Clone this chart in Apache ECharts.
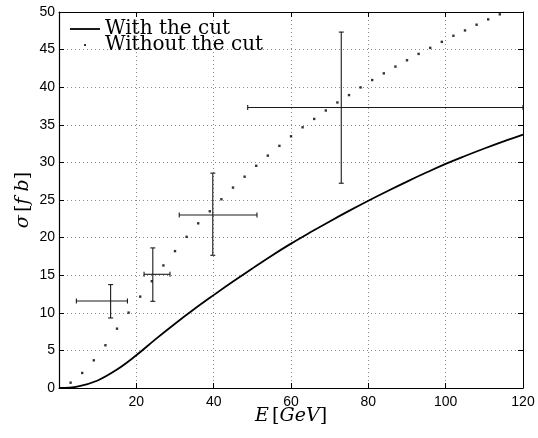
<!DOCTYPE html>
<html>
<head>
<meta charset="utf-8">
<script src="https://cdn.jsdelivr.net/npm/echarts@6/dist/echarts.min.js"></script>
<style>html,body{margin:0;padding:0;background:#fff}#c{width:538px;height:438px}</style>
</head>
<body>
<div id="c"></div>
<script>
// "With the cut" curve
const cutX = [0, 5, 10, 15, 20, 25, 30, 35, 40, 45, 50, 55, 60, 65, 70, 75, 80, 85, 90, 95, 100, 105, 110, 115, 120];
const cutY = [0, 0.22, 1.0, 2.45, 4.35, 6.5, 8.55, 10.5, 12.35, 14.15, 15.9, 17.6, 19.2, 20.7, 22.15, 23.55, 24.9, 26.2, 27.45, 28.65, 29.8, 30.85, 31.85, 32.8, 33.7];
// "Without the cut" dots
const noCutX = [3, 6, 9, 12, 15, 18, 21, 24, 27, 30, 33, 36, 39, 42, 45, 48, 51, 54, 57, 60, 63, 66, 69, 72, 75, 78, 81, 84, 87, 90, 93, 96, 99, 102, 105, 108, 111, 114];
const noCutY = [0.71, 2.0, 3.68, 5.68, 7.89, 10.02, 12.15, 14.2, 16.3, 18.2, 20.1, 21.9, 23.5, 25.1, 26.65, 28.1, 29.55, 30.9, 32.2, 33.47, 34.67, 35.78, 36.9, 37.97, 38.95, 39.97, 40.95, 41.84, 42.74, 43.58, 44.43, 45.23, 46.03, 46.84, 47.55, 48.31, 49.02, 49.69];
// Measurements with error bars
const errX = [13.35, 24.26, 39.77, 73.0];
const errY = [11.57, 15.12, 23.0, 37.3];
const errXLow = [4.49, 22.0, 31.1, 48.8];
const errXHigh = [17.7, 28.7, 51.2, 120];
const errYLow = [9.31, 11.53, 17.65, 27.23];
const errYHigh = [13.75, 18.63, 28.57, 47.33];
// Axis ticks
const xTicks = {min: 0, max: 120, interval: 20};
const yTicks = {min: 0, max: 50, interval: 5};

const chart = echarts.init(document.getElementById('c'), null, {renderer: 'canvas'});
const cutData = cutX.map((x, i) => [x, cutY[i]]);
const noCutData = noCutX.map((x, i) => [x, noCutY[i]]);
const errData = errX.map((x, i) => [x, errY[i], errXLow[i], errXHigh[i], errYLow[i], errYHigh[i]]);

const tickFont = {fontFamily: 'Liberation Sans, Arial, sans-serif', fontSize: 14, color: '#000'};
const gridLine = {show: true, lineStyle: {color: '#8a8a8a', width: 1, type: [1, 3]}};
const cap = 2.5;
const serifRich = {
  i: {fontFamily: 'DejaVu Serif', fontStyle: 'italic', fontSize: 19, color: '#000'},
  n: {fontFamily: 'DejaVu Serif', fontSize: 19, color: '#000'}
};

const option = {
  animation: false,
  backgroundColor: '#fff',
  grid: {left: 59, right: 15, top: 12, bottom: 50, containLabel: false},
  legend: {
    left: 70, top: 19, orient: 'vertical', padding: 0,
    itemWidth: 30, itemHeight: 16, itemGap: -4,
    textStyle: {fontFamily: 'DejaVu Serif', fontSize: 20, color: '#000'},
    data: [
      {name: 'With the cut', icon: 'path://M0,0L0,0M30,16L30,16M0,7.1L30,7.1L30,8.9L0,8.9Z'},
      {name: 'Without the cut', icon: 'path://M0,0L0,0M30,16L30,16M14,7L16,7L16,9L14,9Z'}
    ]
  },
  xAxis: [{
    type: 'value', min: xTicks.min, max: xTicks.max, interval: xTicks.interval,
    name: '{i|E} {n|[}{i|GeV}{n|]}', nameLocation: 'middle', nameGap: 19, nameMoveOverlap: false,
    nameTextStyle: {rich: serifRich},
    axisLine: {show: true, onZero: false, lineStyle: {color: '#000', width: 1.2}},
    axisTick: {show: true, inside: true, length: 5, lineStyle: {color: '#000'}},
    axisLabel: Object.assign({margin: 7, formatter: v => v === 0 ? '' : String(v)}, tickFont),
    splitLine: gridLine
  }, {
    type: 'value', position: 'top', min: xTicks.min, max: xTicks.max, interval: xTicks.interval,
    axisLine: {show: true, onZero: false, lineStyle: {color: '#000', width: 1}},
    axisTick: {show: true, inside: true, length: 5, lineStyle: {color: '#000'}},
    axisLabel: {show: false}, splitLine: {show: false}
  }],
  yAxis: [{
    type: 'value', min: yTicks.min, max: yTicks.max, interval: yTicks.interval,
    name: '{i|σ} {n|[}{i|f b}{n|]}', nameLocation: 'middle', nameGap: 26, nameMoveOverlap: false,
    nameTextStyle: {rich: serifRich},
    axisLine: {show: true, onZero: false, lineStyle: {color: '#000', width: 1.2}},
    axisTick: {show: true, inside: true, length: 5, lineStyle: {color: '#000'}},
    axisLabel: Object.assign({margin: 4}, tickFont),
    splitLine: gridLine
  }, {
    type: 'value', position: 'right', min: yTicks.min, max: yTicks.max, interval: yTicks.interval,
    axisLine: {show: true, onZero: false, lineStyle: {color: '#000', width: 1}},
    axisTick: {show: true, inside: true, length: 5, lineStyle: {color: '#000'}},
    axisLabel: {show: false}, splitLine: {show: false}
  }],
  series: [{
    name: 'With the cut', type: 'line', data: cutData, smooth: 0.4, symbol: 'none',
    lineStyle: {color: '#000', width: 1.8}, itemStyle: {color: '#000'}, z: 3
  }, {
    name: 'Without the cut', type: 'scatter', data: noCutData, symbol: 'rect', symbolSize: 2.4,
    itemStyle: {color: '#000'}, z: 4
  }, {
    name: 'errors', type: 'custom', data: errData, z: 5,
    renderItem: function (params, api) {
      const c = api.coord([api.value(0), api.value(1)]);
      const xl = api.coord([api.value(2), api.value(1)]);
      const xh = api.coord([api.value(3), api.value(1)]);
      const yl = api.coord([api.value(0), api.value(4)]);
      const yh = api.coord([api.value(0), api.value(5)]);
      const st = {stroke: '#1a1a1a', lineWidth: 1.1};
      const L = (x1, y1, x2, y2) => ({type: 'line', shape: {x1, y1, x2, y2}, style: st});
      return {type: 'group', children: [
        L(xl[0], c[1], xh[0], c[1]),
        L(xl[0], c[1] - cap, xl[0], c[1] + cap),
        L(xh[0], c[1] - cap, xh[0], c[1] + cap),
        L(c[0], yl[1], c[0], yh[1]),
        L(c[0] - cap, yl[1], c[0] + cap, yl[1]),
        L(c[0] - cap, yh[1], c[0] + cap, yh[1])
      ]};
    }
  }]
};
chart.setOption(option);
</script>
</body>
</html>
